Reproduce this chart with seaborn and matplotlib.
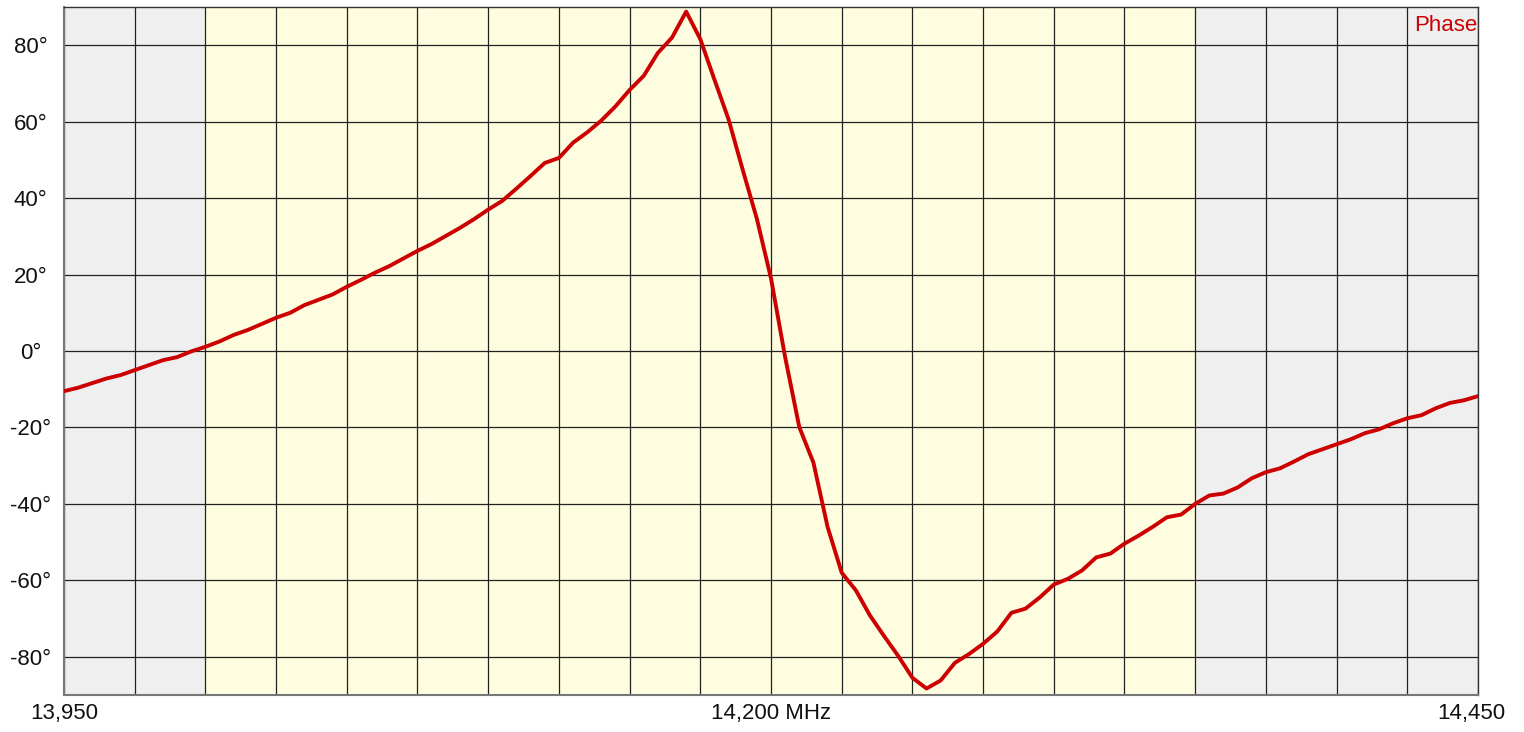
import matplotlib
matplotlib.use("Agg")
import matplotlib.pyplot as plt
import matplotlib.transforms as mtransforms
import seaborn as sns
import pandas as pd
from matplotlib.ticker import MultipleLocator

# sweep frequencies (kHz) and measured phase (degrees)
freq_khz = [
    13950, 13955, 13960, 13965, 13970, 13975, 13980, 13985, 13990, 13995,
    14000, 14005, 14010, 14015, 14020, 14025, 14030, 14035, 14040, 14045,
    14050, 14055, 14060, 14065, 14070, 14075, 14080, 14085, 14090, 14095,
    14100, 14105, 14110, 14115, 14120, 14125, 14130, 14135, 14140, 14145,
    14150, 14155, 14160, 14165, 14170, 14175, 14180, 14185, 14190, 14195,
    14200, 14205, 14210, 14215, 14220, 14225, 14230, 14235, 14240, 14245,
    14250, 14255, 14260, 14265, 14270, 14275, 14280, 14285, 14290, 14295,
    14300, 14305, 14310, 14315, 14320, 14325, 14330, 14335, 14340, 14345,
    14350, 14355, 14360, 14365, 14370, 14375, 14380, 14385, 14390, 14395,
    14400, 14405, 14410, 14415, 14420, 14425, 14430, 14435, 14440, 14445,
    14450,
]
phase_deg = [
    -10.5, -9.6, -8.4, -7.2, -6.3, -5.0, -3.7, -2.4, -1.6, -0.1,
    1.1, 2.5, 4.2, 5.5, 7.1, 8.7, 10.0, 12.0, 13.4, 14.8,
    16.8, 18.6, 20.5, 22.2, 24.2, 26.2, 28.0, 30.1, 32.2, 34.5,
    37.0, 39.3, 42.5, 45.8, 49.2, 50.5, 54.5, 57.2, 60.3, 64.0,
    68.3, 72.0, 78.0, 82.0, 88.8, 81.6, 71.0, 60.6, 47.4, 34.6,
    19.0, -1.6, -19.9, -29.2, -46.0, -58.0, -62.6, -69.2, -74.6, -79.8,
    -85.5, -88.3, -86.2, -81.6, -79.3, -76.6, -73.4, -68.5, -67.4, -64.5,
    -61.1, -59.6, -57.4, -54.0, -53.0, -50.4, -48.3, -46.0, -43.5, -42.8,
    -40.0, -37.8, -37.3, -35.7, -33.3, -31.7, -30.7, -28.9, -27.0, -25.7,
    -24.4, -23.1, -21.5, -20.5, -18.9, -17.6, -16.8, -15.0, -13.6, -12.9,
    -11.8,
]

band_start, band_end = 14000, 14350
x_ticks = [13950, 14200, 14450]
x_labels = ["13,950", "14,200 MHz", "14,450"]
y_ticks = [-80, -60, -40, -20, 0, 20, 40, 60, 80]
y_labels = [f"{v}°" for v in y_ticks]

df = pd.DataFrame({"freq": freq_khz, "phase": phase_deg})

sns.set_style("white")
plt.rcParams["font.family"] = ["Liberation Sans", "DejaVu Sans"]

fig = plt.figure(figsize=(15.24, 7.32), dpi=100)
ax = fig.add_axes([64 / 1524, 1 - 695 / 732, (1478 - 64) / 1524, (695 - 7) / 732])
ax.set_facecolor("#efefef")
ax.axvspan(band_start, band_end, color="#fefde0", zorder=0)

sns.lineplot(data=df, x="freq", y="phase", color="#cc0000", linewidth=2.8, ax=ax, zorder=3)

ax.set_xlim(13950, 14450)
ax.set_ylim(-90, 90)
ax.set_xticks(x_ticks)
ax.set_xticklabels(x_labels)
ax.xaxis.set_minor_locator(MultipleLocator(25))
ax.set_yticks(y_ticks)
ax.set_yticklabels(y_labels)
ax.grid(True, which="both", axis="x", color="#222222", linewidth=0.9, zorder=1)
ax.grid(True, which="major", axis="y", color="#222222", linewidth=0.9, zorder=1)
ax.set_axisbelow(True)
ax.tick_params(axis="both", which="both", length=0, labelsize=16, colors="#111111")
ax.tick_params(axis="y", pad=24)
ax.tick_params(axis="x", pad=6)
for lab in ax.get_yticklabels():
    lab.set_horizontalalignment("center")
# last frequency label sits a little left of its tick
last = ax.get_xticklabels()[-1]
last.set_transform(last.get_transform() + mtransforms.ScaledTranslation(-7 / 100, 0, fig.dpi_scale_trans))
ax.set_xlabel("")
ax.set_ylabel("")

for side in ["left", "bottom"]:
    ax.spines[side].set_color("#777777")
    ax.spines[side].set_linewidth(1.5)
for side in ["top", "right"]:
    ax.spines[side].set_color("#333333")
    ax.spines[side].set_linewidth(1.0)

ax.text(0.9995, 0.9658, "Phase", transform=ax.transAxes, ha="right", va="baseline",
        color="#cc0000", fontsize=16, zorder=4)

fig.savefig("out.png", dpi=100)
